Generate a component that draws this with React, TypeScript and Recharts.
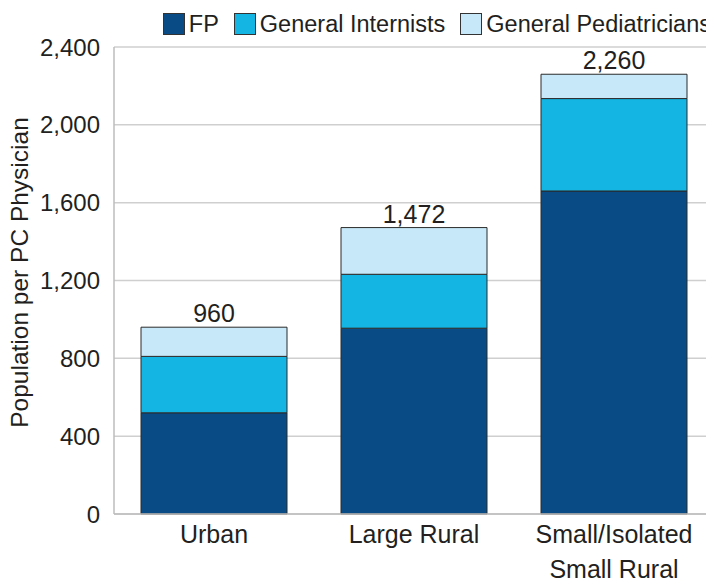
import { Bar, BarChart, CartesianGrid, Label, LabelList, Legend, XAxis, YAxis } from "recharts";

const categories = ["Urban", "Large Rural", "Small/Isolated\nSmall Rural"];
const fpValues = [520, 955, 1660];
const internistValues = [290, 277, 475];
const pediatricianValues = [150, 240, 125];
const totals = [960, 1472, 2260];
const yTicks = [0, 400, 800, 1200, 1600, 2000, 2400];

const series = [
  { key: "fp", name: "FP", color: "#094c85" },
  { key: "gi", name: "General Internists", color: "#15b5e3" },
  { key: "gp", name: "General Pediatricians", color: "#c6e8f8" },
];

const data = categories.map((name, i) => ({
  name,
  fp: fpValues[i],
  gi: internistValues[i],
  gp: pediatricianValues[i],
  total: totals[i],
}));

const font = '"Liberation Sans", Arial, sans-serif';
const textColor = "#231f20";
const fmt = (v: number) => v.toLocaleString("en-US");

function CategoryTick({ x, y, payload }: any) {
  const lines = String(payload.value).split("\n");
  return (
    <text x={x} y={y} textAnchor="middle" fill={textColor} fontSize={25} fontFamily={font}>
      {lines.map((line, i) => (
        <tspan key={i} x={x} dy={i === 0 ? 29 : 35}>
          {line}
        </tspan>
      ))}
    </text>
  );
}

function LegendBox() {
  return (
    <div
      style={{
        height: 34,
        display: "flex",
        alignItems: "flex-start",
        fontFamily: font,
        fontSize: 23.5,
        color: textColor,
        whiteSpace: "nowrap",
      }}
    >
      {series.map((s, i) => (
        <div
          key={s.key}
          style={{ display: "flex", alignItems: "center", marginLeft: i === 0 ? 0 : 15, height: 22, flexShrink: 0 }}
        >
          <span
            style={{
              width: 20,
              height: 20,
              background: s.color,
              border: "1px solid #333",
              marginRight: 4,
              display: "inline-block",
            }}
          />
          <span style={{ lineHeight: "22px" }}>{s.name}</span>
        </div>
      ))}
    </div>
  );
}

function AxisTitle({ viewBox }: any) {
  const cx = viewBox.x + 11;
  const cy = viewBox.y + viewBox.height / 2 - 8;
  return (
    <text
      x={cx}
      y={cy}
      dy="0.35em"
      transform={`rotate(-90, ${cx}, ${cy})`}
      textAnchor="middle"
      fill={textColor}
      fontSize={24.5}
      fontFamily={font}
    >
      Population per PC Physician
    </text>
  );
}

export default function App() {
  return (
    <BarChart
      width={706}
      height={574}
      data={data}
      margin={{ top: 5, right: 0, bottom: 0, left: 0 }}
      barSize={146}
    >
      <CartesianGrid horizontal vertical={false} stroke="#cfcfcf" strokeWidth={1.5} />
      <Legend
        verticalAlign="top"
        align="right"
        wrapperStyle={{ right: 3, left: "auto", width: "auto" }}
        content={() => <LegendBox />}
      />
      <XAxis
        dataKey="name"
        height={68}
        tickLine={false}
        tickSize={0}
        tickMargin={0}
        stroke="#bdbdbd"
        strokeWidth={1.5}
        interval={0}
        tick={<CategoryTick />}
      />
      <YAxis
        width={106}
        domain={[0, 2400]}
        ticks={yTicks}
        tickFormatter={fmt}
        tickLine={false}
        tickSize={0}
        tickMargin={14}
        stroke="#bdbdbd"
        strokeWidth={1.5}
        tick={{ fill: textColor, fontSize: 24, fontFamily: font }}
      >
        <Label content={<AxisTitle />} />
      </YAxis>
      {series.map((s, i) => (
        <Bar
          key={s.key}
          dataKey={s.key}
          name={s.name}
          stackId="a"
          fill={s.color}
          stroke="#2b2b2b"
          strokeWidth={1}
          isAnimationActive={false}
        >
          {i === series.length - 1 && (
            <LabelList
              dataKey="total"
              position="top"
              offset={5}
              formatter={(v: any) => fmt(Number(v))}
              fill={textColor}
              fontSize={25}
              fontFamily={font}
            />
          )}
        </Bar>
      ))}
    </BarChart>
  );
}
